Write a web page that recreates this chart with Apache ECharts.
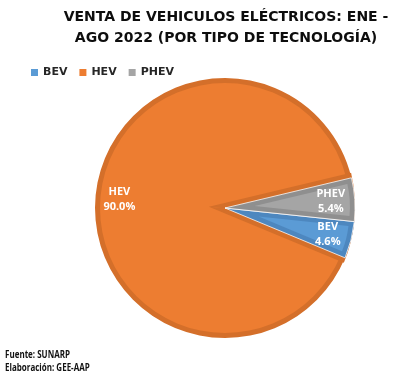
<!DOCTYPE html>
<html><head><meta charset="utf-8">
<script src="https://cdn.jsdelivr.net/npm/echarts@6/dist/echarts.min.js"></script>
<style>html,body{margin:0;padding:0;background:#fff}#c{width:415px;height:379px}</style>
</head><body><div id="c"></div>
<script>
const categories = ['BEV', 'HEV', 'PHEV'];
const values = [4.6, 90.0, 5.4];
const colors = ['#5B9BD5', '#ED7D31', '#A5A5A5'];
const darkColors = ['#4D87BF', '#D46F2A', '#8F8F8F'];
const titleLines = ['VENTA DE VEHICULOS ELÉCTRICOS: ENE -', 'AGO 2022 (POR TIPO DE TECNOLOGÍA)'];
const footerLines = ['Fuente: SUNARP', 'Elaboración: GEE-AAP'];

const chart = echarts.init(document.getElementById('c'), null, {renderer: 'canvas'});
const START = -6, R = 130, W = 5, CX = 225, CY = 208;
const total = values.reduce((a, b) => a + b, 0);
const T = 'rgba(0,0,0,0)';
const BIG = values.indexOf(Math.max(...values));

// inset offset for slice i (so that its fill sits W px inside its edges)
function inset(i) {
  let a = START;
  for (let k = 0; k < i; k++) a -= 360 * values[k] / total;
  const s = 360 * values[i] / total;
  const m = (a - s / 2) * Math.PI / 180;
  const d = W / Math.sin(s / 2 * Math.PI / 180);
  return {dx: Math.cos(m) * d, dy: -Math.sin(m) * d, d};
}
function layerData(colorFn, border) {
  return categories.map((n, i) => ({
    name: n, value: values[i],
    itemStyle: Object.assign({color: colorFn(i)}, border && colorFn(i) !== T ? border : {borderWidth: 0})
  }));
}
function layer(center, radius, colorFn, border) {
  return {
    type: 'pie', center, radius: [0, radius], startAngle: START, clockwise: true,
    silent: true, label: {show: false}, labelLine: {show: false}, emphasis: {disabled: true},
    data: layerData(colorFn, border)
  };
}
const series = [];
series.push(layer([CX, CY], R, i => darkColors[i]));
series.push(layer([CX, CY], R - W, i => i === BIG ? colors[i] : T));
const gb = inset(BIG);
series.push(layer([CX + gb.dx, CY + gb.dy], R + gb.d, i => i === BIG ? T : darkColors[BIG]));
series.push(layer([CX, CY], R, i => i === BIG ? T : darkColors[i], {borderWidth: 1, borderColor: 'rgba(255,255,255,0.75)'}));
categories.forEach((n, i) => {
  if (i === BIG) return;
  const g = inset(i);
  series.push(layer([CX + g.dx, CY + g.dy], R - W - g.d, k => k === i ? colors[k] : T));
});
const F = '"Open Sans", "Noto Sans", sans-serif';
series.push({
  type: 'pie', center: [CX, CY], radius: [76, R], startAngle: START, clockwise: true,
  silent: true, labelLine: {show: false}, emphasis: {disabled: true},
  labelLayout: {hideOverlap: false},
  avoidLabelOverlap: false,
  itemStyle: {color: T, borderWidth: 0},
  label: {
    show: true, position: 'inside', color: '#fff', fontFamily: F, fontWeight: 'bold', fontSize: 11, lineHeight: 15,
    formatter: p => p.name + '\n' + p.value.toFixed(1) + '%'
  },
  data: categories.map((n, i) => ({name: n, value: values[i]}))
});

const D = '"DejaVu Sans", sans-serif';
chart.setOption({
  animation: false,
  color: colors,
  title: [{
    text: titleLines.join('\n'), left: 221, top: 2, textAlign: 'center',
    textStyle: {fontFamily: D, fontWeight: 'bold', fontSize: 14, lineHeight: 21, color: '#0d0d0d'}
  }],
  graphic: [{
    type: 'text', x: 5, y: 349, scaleX: 0.8,
    style: {text: footerLines.join('\n'), font: 'bold 10px "Open Sans", sans-serif', lineHeight: 12.5, fill: '#111', verticalAlign: 'top'}
  }],
  legend: {
    data: categories.map((n, i) => ({name: n, itemStyle: {color: colors[i]}})),
    left: 26, top: 62, icon: 'rect', itemWidth: 7, itemHeight: 7, itemGap: 12,
    textStyle: {fontFamily: D, fontWeight: 'bold', fontSize: 11, color: '#262626'}
  },
  series
});
</script></body></html>
